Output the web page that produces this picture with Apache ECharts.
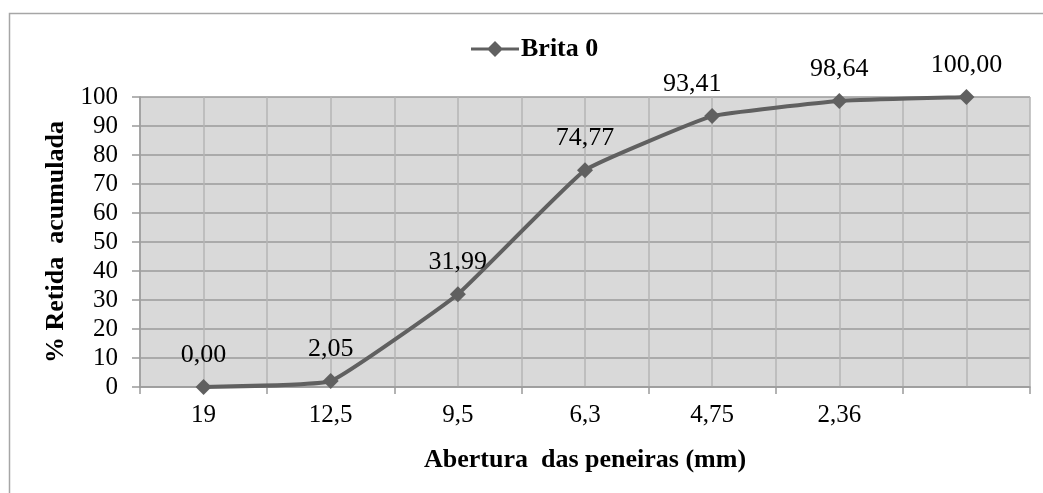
<!DOCTYPE html>
<html>
<head>
<meta charset="utf-8">
<script src="https://cdn.jsdelivr.net/npm/echarts@6/dist/echarts.min.js"></script>
<style>
html,body{margin:0;padding:0;background:#fff;}
#chart{width:1043px;height:493px;}
</style>
</head>
<body>
<div id="chart"></div>
<script>
const categories = ['19', '12,5', '9,5', '6,3', '4,75', '2,36', ''];
const brita0 = [0.00, 2.05, 31.99, 74.77, 93.41, 98.64, 100.00];
const seriesName = 'Brita 0';
const yTicks = { min: 0, max: 100, interval: 10 };

const serif = '"Liberation Serif", "Times New Roman", serif';
// the "93,41" label sits slightly left of its point in the reference
const seriesData = brita0.map((v, i) => i === 4 ? { value: v, label: { offset: [-20, 0] } } : v);

const chart = echarts.init(document.getElementById('chart'));
chart.setOption({
  backgroundColor: '#ffffff',
  animation: false,
  graphic: [{
    type: 'rect',
    shape: { x: 9.5, y: 13.5, width: 2000, height: 1000 },
    style: { fill: 'none', stroke: '#a6a6a6', lineWidth: 1.5 },
    silent: true
  }],
  legend: {
    data: [{ name: seriesName, icon: 'path://M0,6.5L48,6.5L48,9.5L0,9.5Z M24,0L32,8L24,16L16,8Z' }],
    left: 466,
    top: 31,
    itemWidth: 48,
    itemHeight: 16,
    itemGap: 4,
    itemStyle: { color: '#606060' },
    textStyle: { fontFamily: serif, fontWeight: 'bold', fontSize: 26, color: '#000', padding: [0, 0, 0, -3] }
  },
  grid: { left: 140, right: 13, top: 97, bottom: 106, containLabel: false,
          show: true, backgroundColor: '#d9d9d9', borderWidth: 0 },
  xAxis: [{
    type: 'category',
    data: categories,
    boundaryGap: true,
    name: 'Abertura  das peneiras (mm)',
    nameLocation: 'middle',
    nameGap: 60,
    nameTextStyle: { fontFamily: serif, fontWeight: 'bold', fontSize: 26, color: '#000' },
    axisLine: { lineStyle: { color: '#9a9a9a', width: 1.5 } },
    axisTick: { show: true, length: 7, lineStyle: { color: '#9a9a9a', width: 1.5 } },
    axisLabel: { fontFamily: serif, fontSize: 25, color: '#000', margin: 16 },
    splitLine: { show: false },
    z: 5
  }, {
    type: 'value',
    min: 0, max: 7, interval: 0.5,
    position: 'bottom',
    axisLine: { show: false },
    axisTick: { show: false },
    axisLabel: { show: false },
    splitLine: { show: true, lineStyle: { color: '#b5b5b5', width: 1.5 } }
  }],
  yAxis: {
    type: 'value',
    min: yTicks.min, max: yTicks.max, interval: yTicks.interval,
    name: '% Retida  acumulada',
    nameLocation: 'middle',
    nameGap: 70,
    nameRotate: 90,
    nameTextStyle: { fontFamily: serif, fontWeight: 'bold', fontSize: 26, color: '#000' },
    axisLine: { show: true, lineStyle: { color: '#9a9a9a', width: 1.5 } },
    axisTick: { show: true, length: 8, lineStyle: { color: '#9a9a9a', width: 1.5 } },
    axisLabel: { fontFamily: serif, fontSize: 25, color: '#000', margin: 22 },
    splitLine: { show: true, lineStyle: { color: '#9a9a9a', width: 1.5 } }
  },
  series: [{
    name: seriesName,
    type: 'line',
    xAxisIndex: 0,
    data: seriesData,
    smooth: 0.1,
    symbol: 'diamond',
    symbolSize: 16,
    itemStyle: { color: '#606060' },
    lineStyle: { color: '#606060', width: 4 },
    label: {
      show: true,
      position: 'top',
      distance: 11,
      fontFamily: serif,
      fontSize: 26,
      color: '#000',
      formatter: p => Number(p.value).toFixed(2).replace('.', ',')
    },
    z: 10
  }]
});
</script>
</body>
</html>
